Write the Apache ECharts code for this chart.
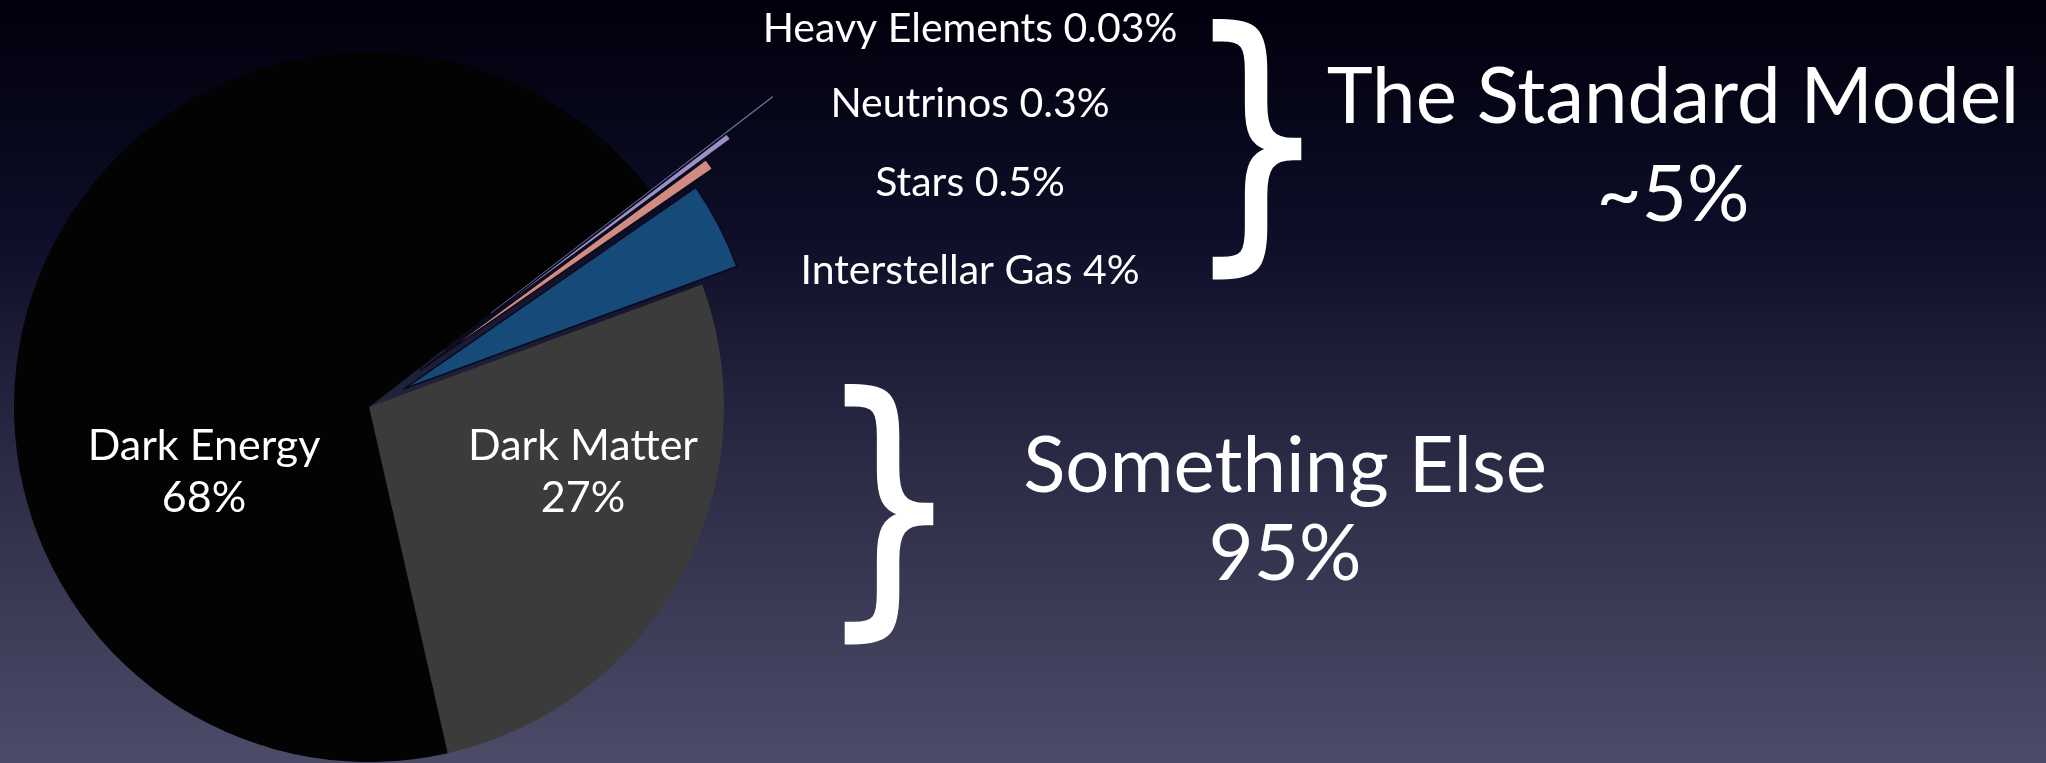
<!DOCTYPE html>
<html>
<head>
<meta charset="utf-8">
<title>Composition of the Universe</title>
<script src="https://cdn.jsdelivr.net/npm/echarts@6/dist/echarts.min.js"></script>
<style>
  html, body { margin: 0; padding: 0; width: 100%; height: 100%; overflow: hidden; background: #000; }
  #chart { width: 2046px; height: 763px; }
</style>
</head>
<body>
<div id="chart"></div>
<script>
// Share of the universe's energy density, in percent, clockwise from the top sliver
const categories = ['Heavy Elements', 'Neutrinos', 'Stars', 'Interstellar Gas', 'Dark Matter', 'Dark Energy'];
const shares = [0.03, 0.3, 0.5, 4, 27, 68];

// Bracketed groupings on the right
const groupNames = ['The Standard Model', 'Something Else'];
const groupTotals = ['~5%', '95%'];

// Styling
const FONT = 'Lato, "Open Sans", sans-serif';
const BRACE_FONT = '"DejaVu Sans", sans-serif';
const sliceColors = ['#64739b', '#9d8ec6', '#d18b80', '#154a79', '#3b3b3b', '#030303'];
const explode = [154, 95, 63, 39, 0, 0];   // pull-out distance of each slice, px
const pieCenter = [369, 407];
const pieRadius = 355;
const startAngle = 37.6;
const bigLabelSpots = { 'Dark Energy': [204, 472], 'Dark Matter': [583, 472] };

const chart = echarts.init(document.getElementById('chart'), null, { renderer: 'canvas' });

const hidden = { color: 'rgba(0,0,0,0)', borderWidth: 0, borderColor: 'rgba(0,0,0,0)' };

function sliceStyle(i) {
  return {
    color: sliceColors[i],
    borderColor: i === 0 ? sliceColors[i] : '#0a0a1e',
    borderWidth: i === 0 ? 0.8 : (i < 4 ? 1.5 : 0)
  };
}

// Base pie: the two large slices, in place
const series = [{
  type: 'pie',
  name: 'base',
  center: pieCenter,
  radius: pieRadius,
  startAngle: startAngle,
  clockwise: true,
  animation: false,
  silent: true,
  label: {
    show: true,
    position: 'inside',
    formatter: '{b}\n{c}%',
    color: '#ffffff',
    fontFamily: FONT,
    fontSize: 43,
    lineHeight: 52,
    align: 'center',
    verticalAlign: 'middle'
  },
  labelLine: { show: false },
  labelLayout: function (p) {
    if (p.seriesIndex !== 0) return {};
    const s = bigLabelSpots[categories[p.dataIndex]];
    return s ? { x: s[0], y: s[1], align: 'center', verticalAlign: 'middle' } : {};
  },
  data: categories.map((name, i) => ({
    name: name,
    value: shares[i],
    itemStyle: explode[i] > 0 ? hidden : sliceStyle(i),
    label: { show: explode[i] === 0 }
  }))
}];

// Pulled-out slivers: one series each so each can have its own offset
categories.forEach((name, i) => {
  if (explode[i] === 0) return;
  series.push({
    type: 'pie',
    name: name,
    center: pieCenter,
    radius: pieRadius,
    startAngle: startAngle,
    clockwise: true,
    animation: false,
    silent: true,
    selectedMode: 'single',
    selectedOffset: explode[i],
    label: { show: false },
    labelLine: { show: false },
    emphasis: { disabled: true },
    select: { itemStyle: sliceStyle(i) },
    data: categories.map((n, j) => ({
      name: n,
      value: shares[j],
      selected: j === i,
      itemStyle: j === i ? sliceStyle(i) : hidden,
      select: { itemStyle: j === i ? sliceStyle(i) : hidden }
    }))
  });
});

// Text on the right
const graphics = [];
const sliverLabelY = [29, 104, 183, 271];
for (let i = 0; i < 4; i++) {
  graphics.push({
    type: 'text', x: 970, y: sliverLabelY[i], silent: true,
    style: { text: categories[i] + ' ' + shares[i] + '%', fill: '#ffffff',
             fontFamily: FONT, fontSize: 41, align: 'center', verticalAlign: 'middle' }
  });
}
// Braces
const bracePos = [[1257, 160], [889, 525]];
bracePos.forEach(p => {
  graphics.push({
    type: 'text', x: p[0], y: p[1], scaleX: 0.8, silent: true,
    style: { text: '}', fill: '#ffffff', stroke: '#ffffff', lineWidth: 3,
             fontFamily: BRACE_FONT, fontSize: 279,
             align: 'center', verticalAlign: 'middle' }
  });
});
// Group titles and totals
const groupPos = [[1673, 98, 196], [1285, 467, 555]];
groupNames.forEach((g, k) => {
  graphics.push({
    type: 'text', x: groupPos[k][0], y: groupPos[k][1], silent: true,
    style: { text: g, fill: '#ffffff', fontFamily: FONT, fontSize: 78,
             align: 'center', verticalAlign: 'middle' }
  });
  graphics.push({
    type: 'text', x: groupPos[k][0], y: groupPos[k][2], silent: true,
    style: { text: groupTotals[k], fill: '#ffffff', fontFamily: FONT, fontSize: 78,
             align: 'center', verticalAlign: 'middle' }
  });
});

chart.setOption({
  animation: false,
  backgroundColor: {
    type: 'linear', x: 0, y: 0, x2: 0, y2: 1,
    colorStops: [
      { offset: 0, color: '#00000c' },
      { offset: 0.3, color: '#0d0d27' },
      { offset: 0.6, color: '#2a2a45' },
      { offset: 1, color: '#4d4c68' }
    ]
  },
  series: series,
  graphic: graphics
});
</script>
</body>
</html>
